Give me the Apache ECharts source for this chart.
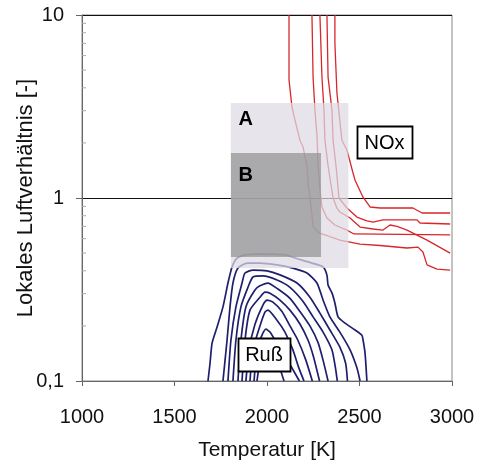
<!DOCTYPE html>
<html><head><meta charset="utf-8">
<script src="https://cdn.jsdelivr.net/npm/echarts@6/dist/echarts.min.js"></script>
<style>html,body{margin:0;padding:0;background:#fff}#c{width:477px;height:465px}</style>
</head><body><div id="c"></div>
<script>
// NOx iso-lines (Temperatur [K], Luftverhältnis [-])
const nox1 = [[2119,10],[2119,4.42],[2135,3.14],[2151,2.67],[2178,2.07],[2195,1.90],[2216,1.48],[2222,1.21],[2232,1.01],[2243,0.807],[2249,0.694],[2286,0.64],[2330,0.62],[2394,0.589],[2503,0.56],[2611,0.55],[2757,0.533],[2816,0.539],[2843,0.507],[2865,0.431],[2919,0.409],[2990,0.404]];
const nox2 = [[2243,10],[2249,4.58],[2259,3.03],[2270,2.2],[2276,1.55],[2286,1.11],[2297,0.893],[2324,0.778],[2367,0.712],[2432,0.668],[2470,0.636],[2990,0.628]];
const nox3 = [[2286,10],[2297,4.58],[2308,3.03],[2313,2.07],[2330,1.5],[2357,1.0],[2378,0.88],[2394,0.838],[2449,0.778],[2503,0.694],[2573,0.677],[2627,0.668],[2665,0.712],[2703,0.70],[2757,0.668],[2865,0.589],[2990,0.5]];
const nox4 = [[2324,10],[2330,4.58],[2351,3.03],[2357,2.07],[2373,1.5],[2389,1.0],[2432,0.882],[2486,0.787],[2540,0.749],[2573,0.739],[2627,0.759],[2811,0.759],[2827,0.73],[2990,0.721]];
const nox5 = [[2367,10],[2367,7.03],[2378,3.75],[2405,2.07],[2432,1.83],[2465,1.37],[2476,1.25],[2519,1.01],[2557,0.893],[2611,0.882],[2789,0.882],[2838,0.828],[2990,0.828]];
// Ruß iso-lines
const russ1 = [[1681,0.1],[1692,0.125],[1703,0.161],[1730,0.197],[1762,0.254],[1789,0.343],[1811,0.42],[1838,0.47],[1881,0.489],[1973,0.494],[2097,0.489],[2151,0.47],[2243,0.441],[2303,0.42],[2324,0.379],[2330,0.335],[2351,0.303],[2367,0.267],[2384,0.224],[2422,0.207],[2476,0.19],[2513,0.178],[2519,0.168],[2530,0.142],[2540,0.1]];
const russ2 = [[1762,0.1],[1784,0.167],[1800,0.254],[1816,0.343],[1843,0.414],[1892,0.441],[1962,0.441],[2054,0.431],[2140,0.414],[2216,0.389],[2270,0.343],[2303,0.277],[2340,0.224],[2394,0.185],[2449,0.148],[2486,0.118],[2503,0.1]];
const russ3 = [[1789,0.1],[1805,0.167],[1832,0.254],[1865,0.343],[1881,0.389],[1924,0.404],[2000,0.40],[2070,0.38],[2162,0.343],[2232,0.287],[2286,0.235],[2340,0.19],[2394,0.153],[2425,0.125],[2435,0.1]];
const russ4 = [[1816,0.1],[1832,0.167],[1859,0.254],[1897,0.325],[1924,0.37],[1978,0.375],[2054,0.356],[2124,0.325],[2195,0.272],[2249,0.224],[2303,0.185],[2351,0.148],[2370,0.118],[2380,0.1]];
const russ5 = [[1843,0.1],[1859,0.167],[1886,0.254],[1935,0.314],[1962,0.331],[2005,0.343],[2059,0.318],[2124,0.283],[2178,0.24],[2232,0.2],[2276,0.162],[2303,0.13],[2330,0.1]];
const russ6 = [[1865,0.1],[1881,0.167],[1908,0.244],[1962,0.287],[1989,0.306],[2016,0.302],[2070,0.277],[2124,0.244],[2178,0.205],[2222,0.167],[2252,0.135],[2284,0.1]];
const russ7 = [[1886,0.1],[1903,0.148],[1935,0.204],[1978,0.26],[2000,0.277],[2032,0.27],[2081,0.24],[2124,0.2],[2167,0.167],[2210,0.13],[2245,0.1]];
const russ8 = [[1908,0.1],[1924,0.148],[1962,0.2],[1989,0.238],[2005,0.244],[2054,0.215],[2097,0.185],[2140,0.148],[2172,0.118],[2200,0.1]];
const russ9 = [[1930,0.1],[1946,0.148],[1973,0.178],[1994,0.192],[2016,0.185],[2054,0.16],[2120,0.125],[2175,0.1]];
const russ10 = [[1946,0.1],[1962,0.13],[1980,0.152],[2000,0.158],[2027,0.145],[2060,0.125],[2092,0.1]];
// Regions [Tmin, Tmax, lambdaMin, lambdaMax]
const regionA = [1805, 2440, 0.414, 3.3];
const regionB = [1805, 2292, 0.476, 1.76];
// Annotations: texts and their anchor points (T, lambda)
const annoTexts = ['A', 'B', 'NOx', 'Ruß'];
const annoPoints = [[1885, 2.73], [1885, 1.35], [2635, 2.02], [1984, 0.14]];
// Axis ticks
const xTickLabels = ['1000','1500','2000','2500','3000'];
const yTickValues = [0.1, 1, 10];
const yTickLabels = ['0,1','1','10'];
const yMinorTicks = [0.2,0.3,0.4,0.5,0.6,0.7,0.8,0.9,2,3,4,5,6,7,8,9];

const FONT = 'Liberation Sans, Arial, sans-serif';
const noxLines = [nox1, nox2, nox3, nox4, nox5];
const russLines = [russ1, russ2, russ3, russ4, russ5, russ6, russ7, russ8, russ9, russ10];

const series = [];
noxLines.forEach(d => series.push({type:'line', data:d, showSymbol:false, z:2, silent:true,
  lineStyle:{color:'#d8262a', width:1.3}}));
russLines.forEach(d => series.push({type:'line', data:d, showSymbol:false, z:2, silent:true, smooth:0.2,
  lineStyle:{color:'#1f1f6e', width:1.7}}));
series.push({
  type:'custom', z:5, silent:true,
  data:[regionA, regionB],
  encode:{x:[0,1], y:[2,3]},
  renderItem:(params, api) => {
    const p1 = api.coord([api.value(0), api.value(3)]);
    const p2 = api.coord([api.value(1), api.value(2)]);
    const fill = params.dataIndex === 0 ? 'rgba(222,219,227,0.72)' : 'rgba(145,145,145,0.72)';
    return {type:'rect', shape:{x:p1[0], y:p1[1], width:p2[0]-p1[0], height:p2[1]-p1[1]}, style:{fill}};
  }
});
series.push({
  type:'custom', z:6, silent:true,
  data: yMinorTicks.map(v => [1000, v]),
  renderItem:(params, api) => {
    const p = api.coord([api.value(0), api.value(1)]);
    return {type:'line', shape:{x1:p[0], y1:p[1], x2:p[0]+4, y2:p[1]}, style:{stroke:'#aaa', lineWidth:1}};
  }
});
const boxSizes = [null, null, [55, 32], [52, 33]];
series.push({
  type:'custom', z:10, silent:true,
  data: annoPoints,
  renderItem:(params, api) => {
    const i = params.dataIndex;
    const p = api.coord([api.value(0), api.value(1)]);
    const children = [];
    const bs = boxSizes[i];
    if (bs) {
      children.push({type:'rect', shape:{x:Math.round(p[0]-bs[0]/2)+0.5, y:Math.round(p[1]-bs[1]/2)+0.5, width:bs[0], height:bs[1]},
        style:{fill:'#fff', stroke:'#000', lineWidth:1.8}});
    }
    children.push({type:'text', x:p[0], y:p[1]+1, style:{text:annoTexts[i], fill:'#000', fontFamily:FONT,
      fontSize:20, fontWeight: bs ? 'normal' : 'bold', align:'center', verticalAlign:'middle'}});
    return {type:'group', children};
  }
});

const chart = echarts.init(document.getElementById('c'), null, {renderer:'canvas'});
chart.setOption({
  animation:false,
  grid:{left:82, right:25, top:15, bottom:84, outerBoundsMode:'none', containLabel:false,
    show:true, borderColor:'#888', borderWidth:1, backgroundColor:'transparent'},
  xAxis:{
    type:'value', min:1000, max:3000, interval:500,
    name:'Temperatur [K]', nameLocation:'middle', nameGap:59, nameMoveOverlap:false,
    nameTextStyle:{fontSize:21, color:'#111', fontFamily:FONT},
    axisLine:{show:true, lineStyle:{color:'#666'}},
    axisTick:{show:true, length:5, lineStyle:{color:'#666'}},
    axisLabel:{fontSize:20, color:'#111', fontFamily:FONT, margin:26,
      formatter:v => { const i = Math.round((v-1000)/500); return xTickLabels[i] ?? ''; }},
    splitLine:{show:false}
  },
  yAxis:{
    type:'log', logBase:10, min:0.1, max:10,
    name:'Lokales Luftverhältnis [-]', nameLocation:'middle', nameGap:45, nameMoveOverlap:false,
    nameTextStyle:{fontSize:22, color:'#111', fontFamily:FONT},
    axisLine:{show:true, lineStyle:{color:'#666'}},
    axisTick:{show:true, length:6, lineStyle:{color:'#666'}},
    axisLabel:{fontSize:20, color:'#111', fontFamily:FONT, margin:18,
      formatter:v => { let idx = -1; yTickValues.forEach((t,i)=>{ if (Math.abs(Math.log10(v)-Math.log10(t))<1e-6) idx=i; }); return idx>=0 ? yTickLabels[idx] : ''; }},
    splitLine:{show:true, lineStyle:{color:'#111', width:1}}
  },
  series
});
</script></body></html>
